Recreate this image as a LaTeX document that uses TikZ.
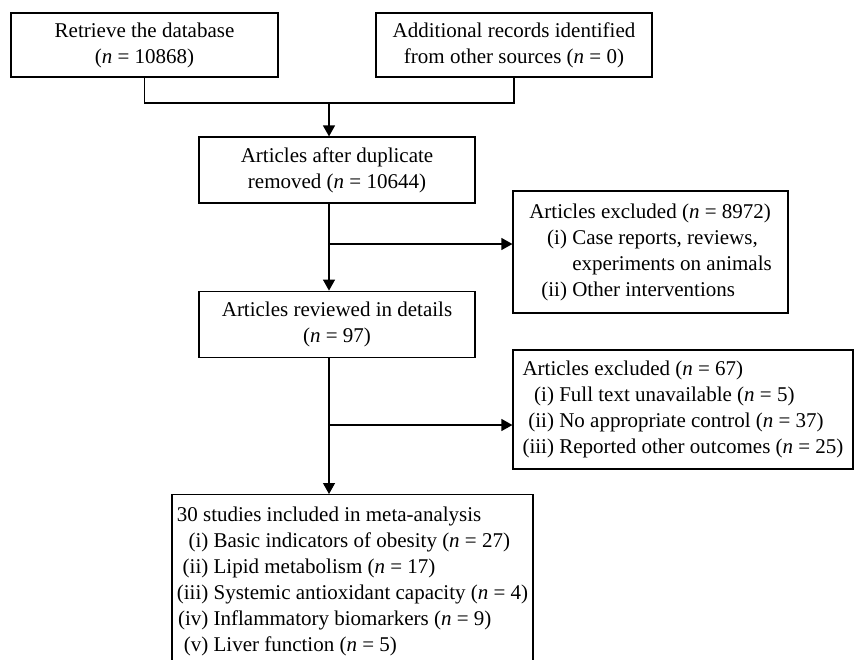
\documentclass[tikz,border=0pt]{standalone}
\usepackage{fontspec}
\setmainfont{Liberation Serif}
\usepackage{tikz}
\usetikzlibrary{arrows.meta,positioning}
\tikzstyle{box} = [rectangle, draw, line width=0.6pt, inner sep=0pt, font=\fontsize{10.5}{13}\selectfont]
\tikzstyle{line} = [line width=0.6pt]
\tikzstyle{arrow} = [line width=0.6pt, -{Triangle[length=5.5pt,width=6pt]}]
\newcommand{\nn}[1]{(\textit{n} = #1)}
\newcommand{\itm}[2][1.5em]{\makebox[#1][r]{#2}}
\newcommand{\cont}[1][1.5em]{\makebox[#1]{}}

\begin{document}
\begin{tikzpicture}[x=0.5pt, y=-0.5pt]
    \useasboundingbox (0,0) rectangle (854,659);
    \node[box, align=center, minimum width=133.5pt, minimum height=32pt] (db) at (144.5,45) {Retrieve the database\\\nn{10868}};
    \node[box, align=center, minimum width=138pt, minimum height=32pt] (other) at (514,45) {Additional records identified\\from other sources \nn{0}};
    \node[box, align=center, minimum width=138pt, minimum height=33pt] (dup) at (337,170) {Articles after duplicate\\removed \nn{10644}};
    \node[box, align=center, minimum width=138pt, minimum height=33pt, below=43.5pt of dup] (rev) {Articles reviewed in details\\\nn{97}};
    \node[box, align=left, minimum width=137.5pt, minimum height=61pt] (excl1) at (650.5,252) {Articles excluded \nn{8972}\\
        \itm[1.8em]{(i)} Case reports, reviews,\\
        \cont[1.8em] experiments on animals\\
        \itm[1.8em]{(ii)} Other interventions};
    \node[box, align=left, minimum width=170pt, minimum height=59.5pt] (excl2) at (683,409.5) {Articles excluded \nn{67}\\
        \itm{(i)} Full text unavailable \nn{5}\\
        \itm{(ii)} No appropriate control \nn{37}\\
        \itm{(iii)} Reported other outcomes \nn{25}};
    \node[box, align=left, minimum width=180.5pt, inner ysep=6pt, anchor=north] (incl) at (352.5,494) {30 studies included in meta-analysis\\
        \itm{(i)} Basic indicators of obesity \nn{27}\\
        \itm{(ii)} Lipid metabolism \nn{17}\\
        \itm{(iii)} Systemic antioxidant capacity \nn{4}\\
        \itm{(iv)} Inflammatory biomarkers \nn{9}\\
        \itm{(v)} Liver function \nn{5}};
    % junctions on the main line
    \coordinate (join) at (329,103);
    \coordinate (br1) at (329,244);
    \coordinate (br2) at (329,425);
    \draw[line] (db.south) |- (join) -| (other.south);
    \draw[arrow] (join) -- (join |- dup.north);
    \draw[line] (join |- dup.south) -- (br1);
    \draw[arrow] (br1) -- (join |- rev.north);
    \draw[arrow] (br1) -- (br1 -| excl1.west);
    \draw[line] (join |- rev.south) -- (br2);
    \draw[arrow] (br2) -- (join |- incl.north);
    \draw[arrow] (br2) -- (br2 -| excl2.west);
\end{tikzpicture}
\end{document}
